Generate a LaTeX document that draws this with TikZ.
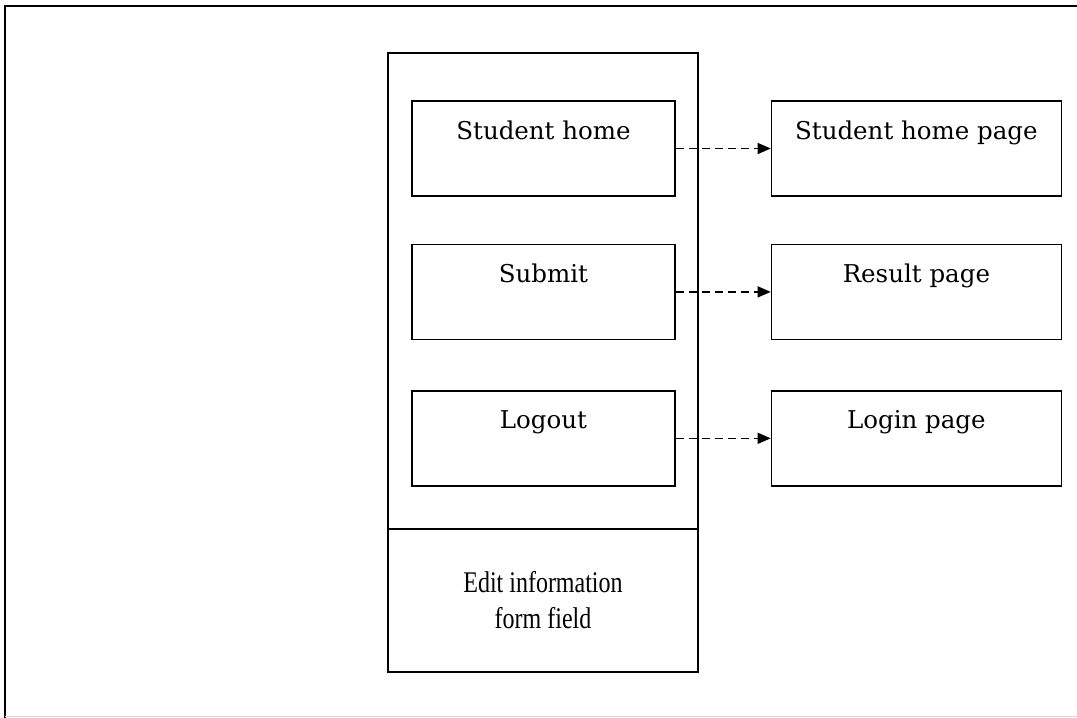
\documentclass[tikz,border=0pt]{standalone}
\usepackage{fontspec}
\setmainfont{DejaVu Serif}
\newfontfamily\editfont[FakeStretch=0.8]{Liberation Serif}
\usetikzlibrary{positioning,arrows.meta}

\tikzset{
  menubox/.style={draw, line width=1.4pt, minimum width=263pt, inner ysep=0pt,
    text height=38pt, text depth=57pt, font=\fontsize{24.5}{28}\selectfont},
  pagebox/.style={menubox, minimum width=290pt},
  link/.style={->, dashed, dash pattern=on 8pt off 5pt, line width=1.3pt}
}

\begin{document}
\begin{tikzpicture}[x=1pt,y=-1pt,>={Triangle[length=13pt,width=11pt]},
            node distance=95pt]
            \useasboundingbox (0,0) rectangle (1077,718);
            % frame
            \draw[line width=1.6pt] (5,718) -- (5,6) -- (1077,6);
            \draw[black!15, line width=1pt] (5,716.5) -- (1077,716.5);

            \node[draw, line width=1.4pt, minimum width=310pt, minimum height=619pt] (screen) at (543,362.5) {};
            \node[draw, line width=1.4pt, minimum width=310pt, minimum height=143pt, anchor=south,
                  align=center, font=\editfont\fontsize{30}{36}\selectfont] (edit) at (screen.south)
                  {Edit information\\form field};

            \node[menubox]                          (home)   at (543.5,148.5) {Student home};
            \node[menubox, below=47pt of home]      (submit)                  {Submit};
            \node[menubox, below=50pt of submit]    (logout)                  {Logout};
            \node[pagebox, right=of home]           (homepage)                {Student home page};
            \node[pagebox, right=of submit]         (result)                  {Result page};
            \node[pagebox, right=of logout]         (login)                   {Login page};

            \draw[link] (home)   -- (homepage);
            \draw[link] (submit) -- (result);
            \draw[link] (logout) -- (login);
\end{tikzpicture}
\end{document}
